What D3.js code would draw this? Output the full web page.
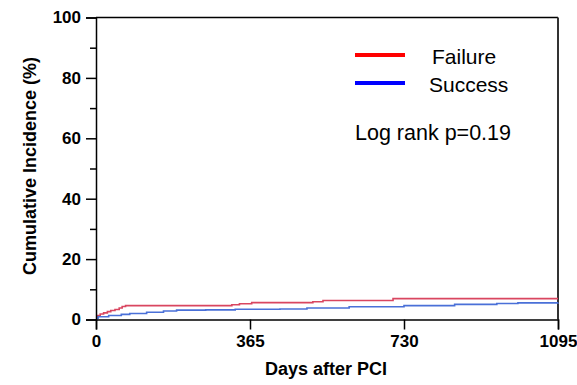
<!DOCTYPE html>
<html>
<head>
<meta charset="utf-8">
<script src="https://cdn.jsdelivr.net/npm/d3@7"></script>
<style>
  html, body { margin: 0; padding: 0; background: #fff; }
  svg { display: block; }
</style>
</head>
<body>
<svg id="chart" width="577" height="385"></svg>
<script>
// Kaplan-Meier style cumulative incidence, [day, percent]
const failureCurve = [
  [0, 0.5], [3, 1.3], [10, 1.8], [18, 2.2], [27, 2.6], [35, 3.0], [45, 3.3],
  [55, 3.8], [62, 4.3], [70, 4.6], [322, 4.9], [340, 5.2], [369, 5.6],
  [514, 5.9], [538, 6.3], [704, 6.9], [1095, 6.9]
];
const successCurve = [
  [0, 0.4], [5, 0.9], [30, 1.3], [60, 1.7], [80, 2.0], [120, 2.4], [160, 2.8],
  [191, 3.1], [260, 3.2], [330, 3.4], [436, 3.5], [500, 3.8], [600, 4.2],
  [730, 4.6], [850, 5.0], [950, 5.3], [1000, 5.5], [1095, 5.6]
];
const xTicks = [0, 365, 730, 1095];
const yTicks = [0, 20, 40, 60, 80, 100];
const yMinorTicks = [10, 30, 50, 70, 90];
const seriesNames = ["Failure", "Success"];
const legendColors = ["#ff0000", "#0000ff"];
const curveColors = ["#d94660", "#4a70d8"];
const pValueText = "Log rank p=0.19";

const svg = d3.select("#chart");
const plotLeft = 96, plotRight = 558, plotTop = 17.5, plotBottom = 319.5;

const x = d3.scaleLinear().domain([0, 1095]).range([plotLeft, plotRight]);
const y = d3.scaleLinear().domain([0, 100]).range([plotBottom, plotTop]);

const font = "'Liberation Sans', Arial, Helvetica, sans-serif";

// Frame
svg.append("line").attr("x1", plotLeft).attr("x2", plotRight).attr("y1", plotTop).attr("y2", plotTop)
  .attr("stroke", "#000").attr("stroke-width", 1.5);
svg.append("line").attr("x1", plotRight).attr("x2", plotRight).attr("y1", plotTop).attr("y2", plotBottom)
  .attr("stroke", "#333").attr("stroke-width", 2);

// Curves
const line = d3.line().x(d => x(d[0])).y(d => y(d[1])).curve(d3.curveStepAfter);
[failureCurve, successCurve].forEach((data, i) => {
  svg.append("path").datum(data).attr("d", line)
    .attr("fill", "none").attr("stroke", curveColors[i]).attr("stroke-width", 1.6);
});

// Axes
svg.append("g").attr("transform", `translate(0,${plotBottom})`)
  .call(d3.axisBottom(x).tickValues(xTicks).tickSize(10).tickPadding(5).tickFormat(d3.format("d")));
svg.append("g").attr("transform", `translate(${plotLeft},0)`)
  .call(d3.axisLeft(y).tickValues(yTicks).tickSize(10).tickPadding(5));
svg.append("g").attr("transform", `translate(${plotLeft},0)`)
  .call(d3.axisLeft(y).tickValues(yMinorTicks).tickSize(6).tickFormat(""))
  .call(g => g.select(".domain").remove());

svg.selectAll(".domain").attr("stroke", "#000").attr("stroke-width", 1.5);
svg.selectAll(".tick line").attr("stroke", "#000").attr("stroke-width", 1.5);
svg.selectAll(".tick text").attr("font-family", font).attr("font-weight", "bold")
  .attr("font-size", 17).attr("fill", "#000");

// Axis titles
svg.append("text").attr("x", 326).attr("y", 375)
  .attr("text-anchor", "middle").attr("font-family", font).attr("font-weight", "bold")
  .attr("font-size", 18).text("Days after PCI");
svg.append("text").attr("transform", "translate(36,166) rotate(-90)")
  .attr("text-anchor", "middle").attr("font-family", font).attr("font-weight", "bold")
  .attr("font-size", 18).text("Cumulative Incidence (%)");

// Legend
const defs = svg.append("defs");
defs.append("filter").attr("id", "soft").attr("x", "-20%").attr("y", "-200%")
  .attr("width", "140%").attr("height", "500%")
  .append("feGaussianBlur").attr("stdDeviation", 1.5);
const legendRows = [55, 83];
seriesNames.forEach((name, i) => {
  svg.append("line").attr("x1", 356).attr("x2", 406).attr("y1", legendRows[i] + 2).attr("y2", legendRows[i] + 2)
    .attr("stroke", "#999").attr("stroke-width", 4).attr("opacity", 0.5).attr("filter", "url(#soft)");
  svg.append("line").attr("x1", 355).attr("x2", 405).attr("y1", legendRows[i]).attr("y2", legendRows[i])
    .attr("stroke", legendColors[i]).attr("stroke-width", 4);
});
svg.append("text").attr("x", 432).attr("y", 64).attr("font-family", font)
  .attr("font-size", 21).text(seriesNames[0]);
svg.append("text").attr("x", 429).attr("y", 92).attr("font-family", font)
  .attr("font-size", 21).text(seriesNames[1]);
svg.append("text").attr("x", 355).attr("y", 140).attr("font-family", font)
  .attr("font-size", 21.5).text(pValueText);
</script>
</body>
</html>
